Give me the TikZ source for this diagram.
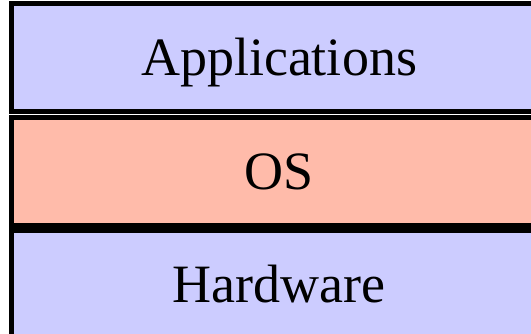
\documentclass[tikz,border=0pt]{standalone}
\usepackage{fontspec}
\setmainfont{Liberation Serif}
\usepackage{tikz}
\usetikzlibrary{positioning}
\definecolor{layerBlue}{RGB}{204,204,255}
\definecolor{layerPink}{RGB}{255,187,170}
\begin{document}
\begin{tikzpicture}
\tikzset{%
	layer/.style = { rectangle, draw=black, line width=5pt, minimum width=535pt, minimum height=108pt, text centered, text height=35.5pt, text depth=0pt, font=\fontsize{54pt}{64pt}\selectfont }
}
\useasboundingbox (0,0) rectangle (531pt,334pt);

\node(Apps)			[layer, fill=layerBlue] at (279pt,276pt)
								{Applications};
\node(OS)			[layer, fill=layerPink, below=0.5pt of Apps.south]
								{OS};
\node(Hardware)		[layer, fill=layerBlue, below=0pt of OS.south]
								{Hardware};

\end{tikzpicture}
\end{document}
